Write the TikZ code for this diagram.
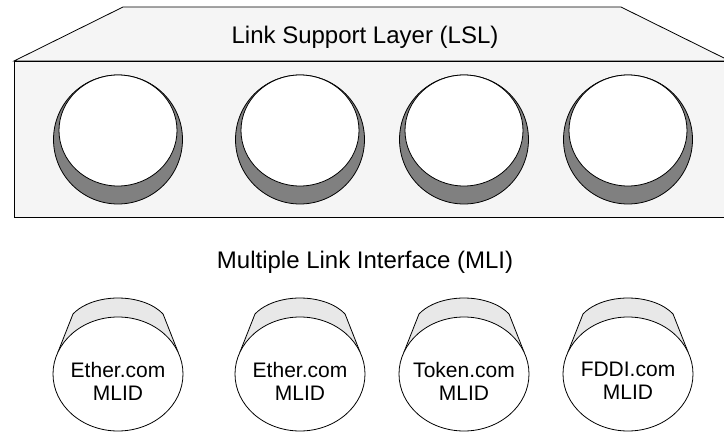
\documentclass[tikz,border=0pt]{standalone}
\usepackage{fontspec}
\setmainfont{Liberation Sans}

\definecolor{panel}{HTML}{F5F5F5}
\definecolor{slotgrey}{HTML}{808080}
\definecolor{capgrey}{HTML}{E8E8E8}

\tikzset{
  layertext/.style={font=\fontsize{24}{28}\selectfont},
  mlidtext/.style={font=\fontsize{21}{23}\selectfont, align=center},
}

\begin{document}
\begin{tikzpicture}[x=1pt, y=1pt, line width=0.8pt]

\useasboundingbox (0,0) rectangle (724,432);

% LSL top face
\draw[fill=panel] (14,371) -- (123,425) -- (621,425) -- (730,371) -- cycle;
\node[layertext] (lsl) at (365,395) {Link Support Layer (LSL)};

% LSL front face
\draw[fill=panel] (14,215) rectangle (730,371);

% slot 1
\draw[fill=slotgrey] (118,292.5) circle[radius=64.5];
\draw[fill=white] (118,301.5) ellipse[x radius=59, y radius=55.5];

% slot 2
\draw[fill=slotgrey] (300,292.5) circle[radius=64.5];
\draw[fill=white] (300,301.5) ellipse[x radius=59, y radius=55.5];

% slot 3
\draw[fill=slotgrey] (464,292.5) circle[radius=64.5];
\draw[fill=white] (464,301.5) ellipse[x radius=59, y radius=55.5];

% slot 4
\draw[fill=slotgrey] (628,292.5) circle[radius=64.5];
\draw[fill=white] (628,301.5) ellipse[x radius=59, y radius=55.5];

% MLI
\node[layertext] (mli) at (365,170) {Multiple Link Interface (MLI)};

% MLID 1
\draw[fill=capgrey] (58,80) -- (73,118) arc[start angle=150, end angle=30, x radius=52, y radius=32] -- (178,80) -- cycle;
\draw[fill=white] (118,58) ellipse[x radius=65, y radius=57];
\node[mlidtext] (mlid1) at (118,51) {Ether.com\\MLID};

% MLID 2
\draw[fill=capgrey] (240,80) -- (255,118) arc[start angle=150, end angle=30, x radius=52, y radius=32] -- (360,80) -- cycle;
\draw[fill=white] (300,58) ellipse[x radius=65, y radius=57];
\node[mlidtext] (mlid2) at (300,51) {Ether.com\\MLID};

% MLID 3
\draw[fill=capgrey] (404,80) -- (419,118) arc[start angle=150, end angle=30, x radius=52, y radius=32] -- (524,80) -- cycle;
\draw[fill=white] (464,58) ellipse[x radius=65, y radius=57];
\node[mlidtext] (mlid3) at (464,51) {Token.com\\MLID};

% MLID 4
\draw[fill=capgrey] (568,80) -- (583,118) arc[start angle=150, end angle=30, x radius=52, y radius=32] -- (688,80) -- cycle;
\draw[fill=white] (628,58) ellipse[x radius=65, y radius=57];
\node[mlidtext] (mlid4) at (628,51) {FDDI.com\\MLID};

\end{tikzpicture}
\end{document}
